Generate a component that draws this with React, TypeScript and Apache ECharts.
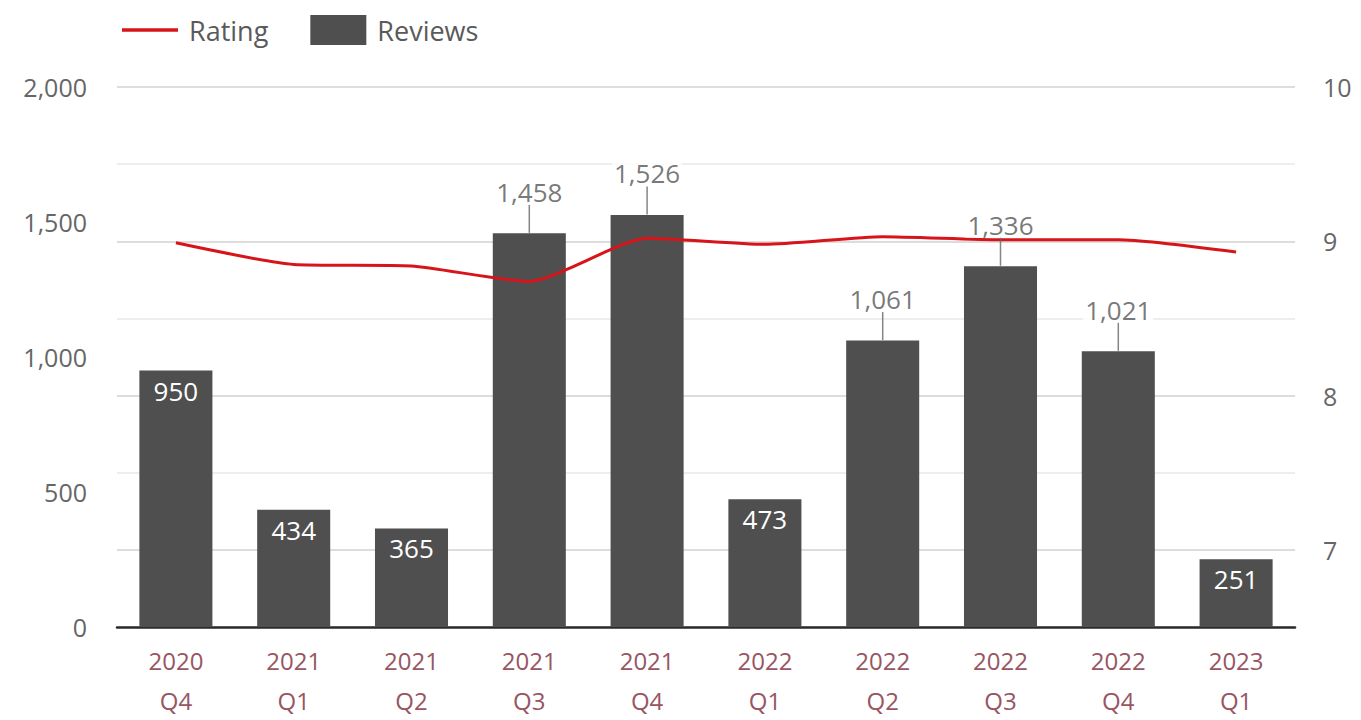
import React, { useEffect, useRef } from "react";
import * as echarts from "echarts";

const categories = [
  "2020\nQ4", "2021\nQ1", "2021\nQ2", "2021\nQ3", "2021\nQ4",
  "2022\nQ1", "2022\nQ2", "2022\nQ3", "2022\nQ4", "2023\nQ1",
];
const reviews = [950, 434, 365, 1458, 1526, 473, 1061, 1336, 1021, 251];
const rating = [8.99, 8.85, 8.84, 8.74, 9.02, 8.98, 9.03, 9.01, 9.01, 8.93];
const leftTicks = { min: 0, max: 2000, interval: 500 };
const rightTicks = { min: 6.5, max: 10, interval: 0.5 };
const OUTSIDE_THRESHOLD = 1000;

const FONT = "'Open Sans', 'DejaVu Sans', sans-serif";
const fmt = (v: number) => v.toLocaleString("en-US");

export default function App() {
  const ref = useRef<HTMLDivElement>(null);
  useEffect(() => {
    if (!ref.current) return;
    const chart = echarts.init(ref.current, null, { renderer: "svg" });
    chart.setOption({
      animation: false,
      textStyle: { fontFamily: FONT },
      legend: {
        data: [
          { name: "Rating", icon: "path://M0,0 M56,30 M0,13.2 L56,13.2 L56,16.8 L0,16.8 Z" },
          { name: "Reviews", icon: "rect" },
        ],
        left: 117,
        top: 10,
        itemWidth: 56,
        itemHeight: 30,
        itemGap: 42,
        textStyle: { fontSize: 27, color: "#5a5a5a", fontFamily: FONT, padding: [0, 0, 0, 6] },
      },
      grid: { left: 117, right: 66, top: 87, bottom: 89, containLabel: false },
      xAxis: {
        type: "category",
        data: categories,
        axisLine: { lineStyle: { color: "#2a2a2a", width: 2.5 } },
        axisTick: { show: false },
        axisLabel: {
          interval: 0,
          fontSize: 24,
          lineHeight: 40,
          margin: 13,
          color: "#985562",
          fontFamily: FONT,
        },
      },
      yAxis: [
        {
          type: "value",
          position: "left",
          min: leftTicks.min,
          max: leftTicks.max,
          interval: leftTicks.interval,
          alignTicks: false,
          axisLine: { show: false },
          axisTick: { show: false },
          splitLine: { show: false },
          axisLabel: { fontSize: 25, color: "#666", margin: 30, fontFamily: FONT },
        },
        {
          type: "value",
          position: "right",
          min: rightTicks.min,
          max: rightTicks.max,
          interval: rightTicks.interval,
          alignTicks: false,
          axisLine: { show: false },
          axisTick: { show: false },
          splitLine: { show: true, lineStyle: { color: ["#e9e9e9", "#d2d2d2"], width: 1.5 } },
          axisLabel: {
            fontSize: 25,
            color: "#666",
            margin: 28,
            fontFamily: FONT,
            formatter: (v: number) => (Math.abs(v - Math.round(v)) < 1e-6 ? String(Math.round(v)) : ""),
          },
        },
      ],
      series: [
        {
          name: "Reviews",
          type: "bar",
          yAxisIndex: 0,
          data: reviews,
          barWidth: "62%",
          itemStyle: { color: "#4f4f4f" },
          z: 2,
          label: {
            show: true,
            position: "insideTop",
            distance: 7,
            color: "#fff",
            fontSize: 26,
            fontFamily: FONT,
            formatter: (p: any) => (p.value > OUTSIDE_THRESHOLD ? "" : fmt(p.value)),
          },
        },
        {
          name: "Rating",
          type: "line",
          yAxisIndex: 1,
          data: rating,
          symbol: "none",
          smooth: 0.2,
          lineStyle: { color: "#d7141a", width: 3 },
          itemStyle: { color: "#d7141a" },
          z: 3,
        },
        {
          name: "labels",
          type: "scatter",
          yAxisIndex: 0,
          silent: true,
          z: 10,
          symbolSize: 1,
          itemStyle: { color: "rgba(0,0,0,0)" },
          data: reviews.map((v) => (v > OUTSIDE_THRESHOLD ? v : "-")),
          label: {
            show: true,
            position: "top",
            distance: 0,
            formatter: (p: any) => `{v|${fmt(p.value)}}\n{l| }`,
            rich: {
              v: {
                fontSize: 26,
                color: "#555",
                fontFamily: FONT,
                lineHeight: 26,
                align: "center",
                backgroundColor: "#fff",
                padding: [0, 2],
              },
              l: {
                width: 1.5,
                height: 28,
                lineHeight: 28,
                fontSize: 1,
                align: "center",
                backgroundColor: "#666",
              },
            },
          },
        },
      ],
    });
    return () => chart.dispose();
  }, []);
  return (
    <div
      ref={ref}
      style={{ position: "fixed", left: 0, top: 0, width: 1361, height: 720, background: "#fff" }}
    />
  );
}
